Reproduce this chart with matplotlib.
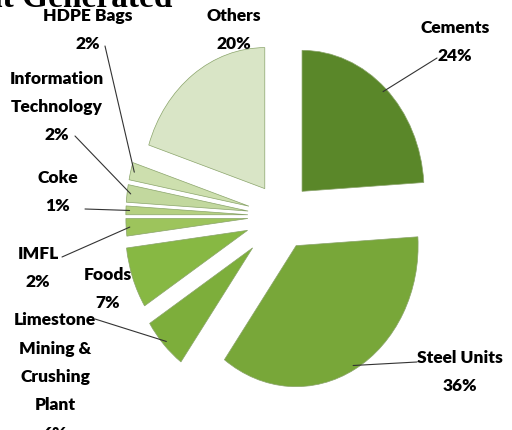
import matplotlib.pyplot as plt
from matplotlib.patches import ConnectionPatch
import numpy as np

# sector shares (%), clockwise from 12 o'clock
sectors = ["Cements", "Steel Units", "Limestone\nMining &\nCrushing\nPlant", "Foods",
           "IMFL", "Coke", "Information\nTechnology", "HDPE Bags", "Others"]
shares = [24, 36, 6, 7, 2, 1, 2, 2, 20]
colors = ["#5a8729", "#78a739", "#7dae3b", "#87b843", "#9dc45c",
          "#b5d081", "#c2d89e", "#cddfae", "#d9e5c6"]
explode = [0.24, 0.24, 0.33, 0.3, 0.28, 0.28, 0.28, 0.28, 0.24]

# label centre (figure pixels from top-left) and leader start (None = no leader)
label_pos = [(455, 42, (437, 59)),
             (460, 372, (417, 363)),
             (55, 377, (95, 320)),
             (108, 289, None),
             (38, 268, (62, 258)),
             (58, 192, (85, 210)),
             (57, 107, (75, 137)),
             (88, 30, (105, 47)),
             (234, 30, None)]

W, H = 512, 431
fig = plt.figure(figsize=(W / 100, H / 100), dpi=100)

# pie centre ~ (282, 217) px, radius 122 px wide and 141 px tall
rx, ry, cx, cy = 122, 141, 282, 217
ax = fig.add_axes([(cx - 1.5 * rx) / W, (H - cy - 1.5 * ry) / H, 3 * rx / W, 3 * ry / H])

wedges, _ = ax.pie(shares, colors=colors, explode=explode, startangle=90,
                   counterclock=False, radius=1,
                   wedgeprops=dict(edgecolor="#8aa46a", linewidth=0.5))
for w in wedges:
    w.set_clip_on(False)
ax.set_aspect("auto")
ax.set_xlim(-1.5, 1.5)
ax.set_ylim(-1.5, 1.5)
ax.axis("off")

font = dict(family=["Lato", "DejaVu Sans"], fontweight="heavy", fontsize=12.5, color="black")

for w, name, val, (tx, ty, lead) in zip(wedges, sectors, shares, label_pos):
    fig.text(tx / W, 1 - ty / H, f"{name}\n{val}%", ha="center", va="center",
             linespacing=1.95, **font)
    if lead is not None:
        mid = np.deg2rad((w.theta1 + w.theta2) / 2)
        x0, y0 = w.center
        pt = (x0 + 0.97 * np.cos(mid), y0 + 0.97 * np.sin(mid))
        con = ConnectionPatch(xyA=(lead[0], H - lead[1]), coordsA="figure pixels",
                              xyB=pt, coordsB=ax.transData,
                              color="#333333", linewidth=0.8)
        fig.add_artist(con)

# title sits mostly above the top edge in the reference
fig.text(172 / W, 1 - 7 / H, "Employment Generated", ha="right", va="baseline",
         family="Liberation Serif", fontweight="bold", fontsize=24)

fig.savefig("out.png", dpi=100)
